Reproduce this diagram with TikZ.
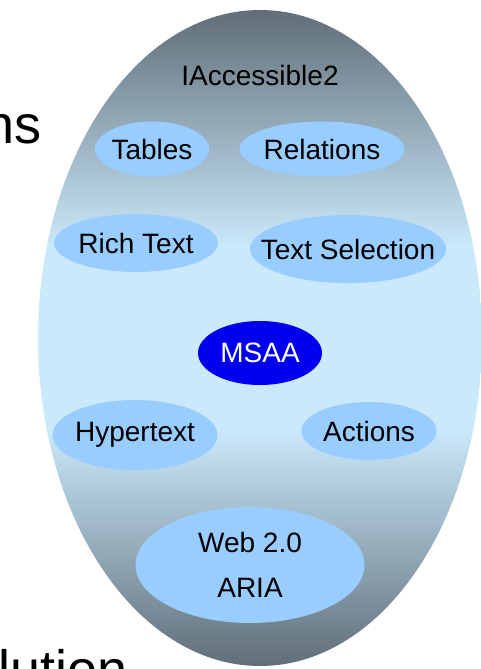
\documentclass[tikz,border=0pt]{standalone}
\usepackage{fontspec}
\setmainfont{Liberation Sans}
\usetikzlibrary{shapes.geometric}
\definecolor{shellgrey}{RGB}{96,110,120}
\definecolor{shellblue}{RGB}{202,233,251}
\definecolor{partblue}{RGB}{153,204,255}
\definecolor{coreblue}{RGB}{0,0,238}
\pgfdeclareverticalshading{shellshade}{100bp}{color(0bp)=(shellgrey); color(25bp)=(shellgrey);
  color(43bp)=(shellblue); color(57bp)=(shellblue); color(75bp)=(shellgrey); color(100bp)=(shellgrey)}
\tikzset{
  part/.style={ellipse, fill=partblue, inner xsep=-40pt, inner ysep=-20pt, align=center,
    font=\fontsize{28}{34}\selectfont},
  slidetext/.style={inner sep=0pt, font=\fontsize{54}{60}\selectfont}
}

\begin{document}
\begin{tikzpicture}[x=1pt, y=-1pt]
		\clip (0,0) rectangle (481,669);
		\node (IA2) [ellipse, minimum width=444pt, minimum height=656pt, shading=shellshade] at (260,338) {};
		\node (title) [font=\fontsize{28}{34}\selectfont] at (260,75) {IAccessible2};
		\node (Tab) [part, minimum width=114pt, minimum height=55pt] at (152,149) {Tables};
		\node (Rel) [part, minimum width=165pt, minimum height=55pt] at (322,149) {Relations};
		\node (RT) [part, minimum width=164pt, minimum height=58pt] at (136,243) {Rich Text};
		\node (TS) [part, minimum width=196pt, minimum height=68pt] at (348,249) {Text Selection};
		\node (MSAA) [part, fill=coreblue, text=white, minimum width=124pt, minimum height=64pt] at (260,353) {MSAA};
		\node (HT) [part, minimum width=165pt, minimum height=70pt] at (135,435) {Hypertext};
		\node (Act) [part, minimum width=135pt, minimum height=58pt] at (369,431) {Actions};
		\node (Web) [part, minimum width=229pt, minimum height=116pt,
			font=\fontsize{28}{45}\selectfont] at (250,565) {Web 2.0\\ARIA};
		\node (ns) [slidetext, anchor=base east] at (42,143) {ns};
		\node (lution) [slidetext, anchor=base west] at (-2,688) {lution};
\end{tikzpicture}
\end{document}
